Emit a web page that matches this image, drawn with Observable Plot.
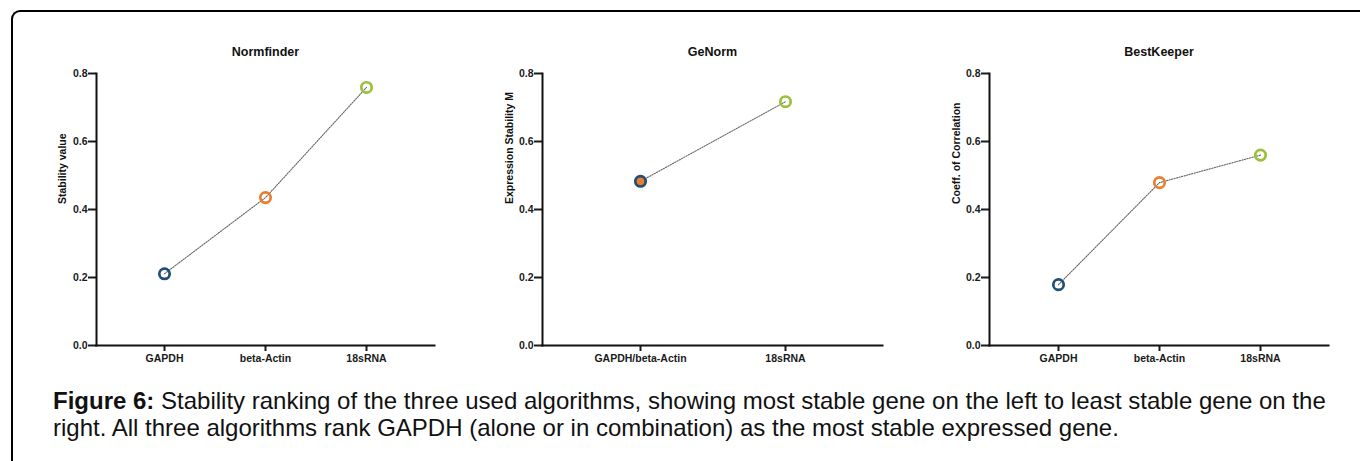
<!DOCTYPE html>
<html>
<head>
<meta charset="utf-8">
<script src="https://cdn.jsdelivr.net/npm/d3@7"></script>
<script src="https://cdn.jsdelivr.net/npm/@observablehq/plot@0.6"></script>
<style>
  html, body { margin: 0; padding: 0; background: #fff; }
  #page { position: relative; width: 1360px; height: 461px; overflow: hidden; font-family: "Liberation Sans", Arial, sans-serif; }
  #box { position: absolute; left: 11px; top: 10px; width: 2000px; height: 2000px;
         border-left: 2px solid #000; border-top: 2px solid #000; border-top-left-radius: 9px; }
  .panel { position: absolute; top: 20px; }
  #caption { position: absolute; left: 53px; top: 387px; font-size: 24px; line-height: 27px; color: #111; white-space: nowrap; }
</style>
</head>
<body>
<div id="page">
  <div id="box"></div>
  <div class="panel" id="p1"></div>
  <div class="panel" id="p2"></div>
  <div class="panel" id="p3"></div>
  <div id="caption"><b>Figure 6:</b> Stability ranking of the three used algorithms, showing most stable gene on the left to least stable gene on the<br>right. All three algorithms rank GAPDH (alone or in combination) as the most stable expressed gene.</div>
</div>
<script>
// ---- data ----
const titles = ["Normfinder", "GeNorm", "BestKeeper"];
const yLabels = ["Stability value", "Expression Stability M", "Coeff. of Correlation"];
const yTicks = [0, 0.2, 0.4, 0.6, 0.8];

const normfinderGenes = ["GAPDH", "beta-Actin", "18sRNA"];
const normfinderValues = [0.211, 0.435, 0.759];

const genormGenes = ["GAPDH/beta-Actin", "18sRNA"];
const genormValues = [0.483, 0.717];

const bestkeeperGenes = ["GAPDH", "beta-Actin", "18sRNA"];
const bestkeeperValues = [0.179, 0.479, 0.560];

// ---- styles ----
const navy = "#1f4e79", orange = "#ec7d2c", green = "#9bc03b";
const panels = [
  {id: "p1", left: 0, width: 460, ml: 96, mr: 26, labelDx: -34,
   genes: normfinderGenes, values: normfinderValues,
   strokes: [navy, orange, green], fills: ["none", "none", "none"]},
  {id: "p2", left: 460, width: 460, ml: 82, mr: 38, labelDx: -32.5,
   genes: genormGenes, values: genormValues,
   strokes: [navy, green], fills: [orange, "none"]},
  {id: "p3", left: 920, width: 440, ml: 69, mr: 32, labelDx: -33.3,
   genes: bestkeeperGenes, values: bestkeeperValues,
   strokes: [navy, orange, green], fills: ["none", "none", "none"]}
];

panels.forEach((p, i) => {
  const data = p.genes.map((g, j) => ({gene: g, value: p.values[j], stroke: p.strokes[j], fill: p.fills[j]}));
  const chart = Plot.plot({
    width: p.width,
    height: 350,
    marginTop: 53,
    marginBottom: 25,
    marginLeft: p.ml,
    marginRight: p.mr,
    style: {fontFamily: "'Liberation Sans', Arial, sans-serif", fontSize: "10.5px", fontWeight: "bold", color: "#1a1a1a", background: "transparent", overflow: "visible"},
    x: {type: "point", domain: p.genes, padding: 0.667, label: null},
    y: {domain: [0, 0.8], label: null},
    color: {type: "identity"},
    marks: [
      Plot.axisY({ticks: yTicks, tickFormat: d3.format(".1f"), tickSize: 8, tickPadding: 1, strokeWidth: 2, label: null}),
      Plot.axisX({tickSize: 6, tickPadding: 3, strokeWidth: 2, label: null}),
      Plot.frame({anchor: "left", strokeWidth: 2, stroke: "#111"}),
      Plot.frame({anchor: "bottom", strokeWidth: 2, stroke: "#111"}),
      Plot.line(data, {x: "gene", y: "value", stroke: "#666", strokeWidth: 1.1, strokeDasharray: "1.3,1.3"}),
      Plot.dot(data, {x: "gene", y: "value", r: 5.2, stroke: "stroke", fill: "fill", strokeWidth: 2.7}),
      Plot.text([titles[i]], {text: d => d, frameAnchor: "top", lineAnchor: "bottom", dy: -18, fontSize: 12.5, fontWeight: "bold", fill: "#111"}),
      Plot.text([yLabels[i]], {text: d => d, frameAnchor: "left", rotate: -90, dx: p.labelDx, dy: -5.5, fontSize: 10.5, fontWeight: "bold", fill: "#111"})
    ]
  });
  const el = document.getElementById(p.id);
  el.style.left = p.left + "px";
  el.appendChild(chart);
});
</script>
</body>
</html>
